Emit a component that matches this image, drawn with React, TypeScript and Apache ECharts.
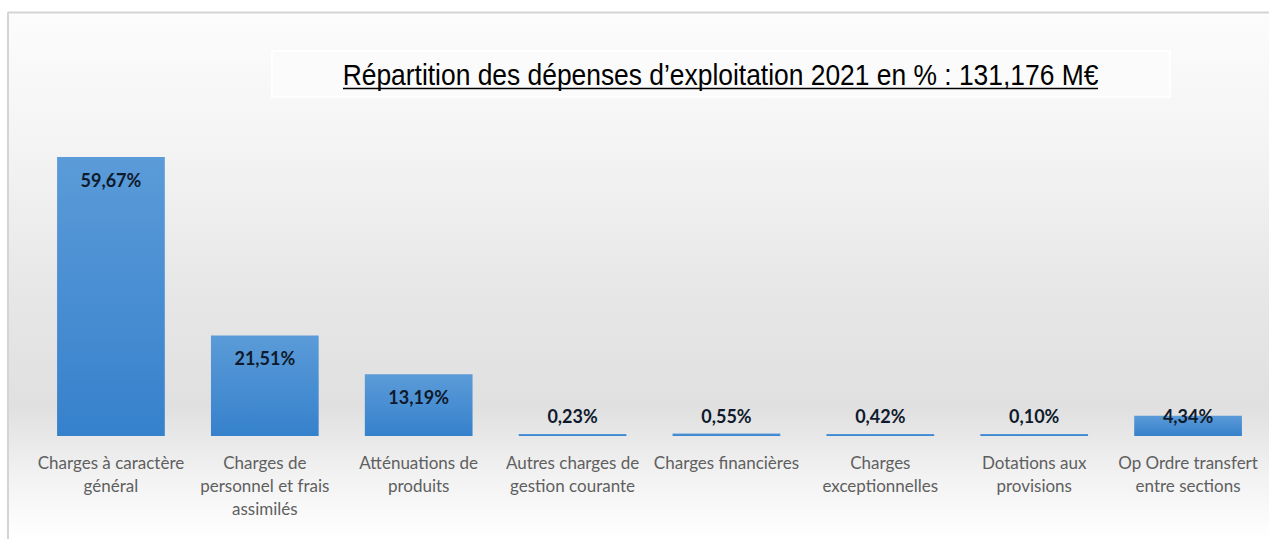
import React, { useEffect, useRef } from "react";
import * as echarts from "echarts";

const titleText = "Répartition des dépenses d’exploitation 2021 en % : 131,176 M€";
const categories = [
  "Charges à caractère\ngénéral",
  "Charges de\npersonnel et frais\nassimilés",
  "Atténuations de\nproduits",
  "Autres charges de\ngestion courante",
  "Charges financières",
  "Charges\nexceptionnelles",
  "Dotations aux\nprovisions",
  "Op Ordre transfert\nentre sections",
];
const values = [59.67, 21.51, 13.19, 0.23, 0.55, 0.42, 0.1, 4.34];

const fmt = (v: number) => v.toFixed(2).replace(".", ",") + "%";

export default function App() {
  const ref = useRef<HTMLDivElement>(null);
  useEffect(() => {
    if (!ref.current) return;
    const chart = echarts.init(ref.current, null, { renderer: "svg" });
    const labelStyle = {
      show: true,
      formatter: (p: any) => fmt(p.value),
      fontFamily: "Lato",
      fontWeight: "bold" as const,
      fontSize: 18,
      color: "#0f1a2c",
    };
    chart.setOption({
      animation: false,
      backgroundColor: "#ffffff",
      graphic: [
        {
          type: "rect",
          z: -10,
          shape: { x: 8, y: 12, width: 1261, height: 527 },
          style: {
            fill: new echarts.graphic.LinearGradient(0, 0, 0, 1, [
              { offset: 0, color: "#fcfcfc" },
              { offset: 0.25, color: "#f4f4f4" },
              { offset: 0.55, color: "#e6e6e6" },
              { offset: 0.75, color: "#e0e0e0" },
              { offset: 0.88, color: "#f2f2f2" },
              { offset: 1, color: "#ffffff" },
            ]),
          },
        },
        {
          type: "line",
          z: -5,
          shape: { x1: 8, y1: 12.5, x2: 1269, y2: 12.5 },
          style: { stroke: "#d4d4d4", lineWidth: 2 },
        },
        {
          type: "line",
          z: -5,
          shape: { x1: 8, y1: 12, x2: 8, y2: 539 },
          style: { stroke: "#d4d4d4", lineWidth: 2 },
        },
        {
          type: "rect",
          z: -4,
          shape: { x: 272, y: 51, width: 898, height: 46 },
          style: { fill: "#fbfbfb", stroke: "#ffffff", lineWidth: 2 },
        },
        {
          type: "text",
          z: 5,
          x: 720.5,
          y: 74,
          scaleX: 0.88,
          style: {
            text: titleText,
            fontFamily: "Liberation Sans, Arial",
            fontSize: 30,
            fill: "#000000",
            textAlign: "center",
            textVerticalAlign: "middle",
          },
        },
        {
          type: "line",
          z: 5,
          shape: { x1: 343, y1: 88.5, x2: 1098, y2: 88.5 },
          style: { stroke: "#000000", lineWidth: 1.5 },
        },
      ],
      grid: { left: 34, right: 4, top: 155.4, bottom: 103 },
      xAxis: {
        type: "category",
        data: categories,
        axisLine: { show: false },
        axisTick: { show: false },
        axisLabel: {
          interval: 0,
          margin: 15,
          fontFamily: "Lato",
          fontSize: 17,
          lineHeight: 23,
          color: "#5f5f5f",
          align: "center",
        },
      },
      yAxis: {
        type: "value",
        min: 0,
        max: 60,
        show: false,
        splitLine: { show: false },
      },
      series: [
        {
          type: "bar",
          barWidth: "70%",
          barMinHeight: 2,
          data: values.map((v) => ({
            value: v,
            label:
              v >= 10
                ? { ...labelStyle, position: "insideTop", distance: 14 }
                : { ...labelStyle, position: "insideBottom", distance: 11 },
          })),
          itemStyle: {
            color: new echarts.graphic.LinearGradient(0, 0, 0, 1, [
              { offset: 0, color: "#5b9bd8" },
              { offset: 1, color: "#3681cc" },
            ]),
          },
        },
      ],
    });
    return () => chart.dispose();
  }, []);
  return (
    <div
      ref={ref}
      style={{ position: "absolute", left: 0, top: 0, width: 1269, height: 539 }}
    />
  );
}
